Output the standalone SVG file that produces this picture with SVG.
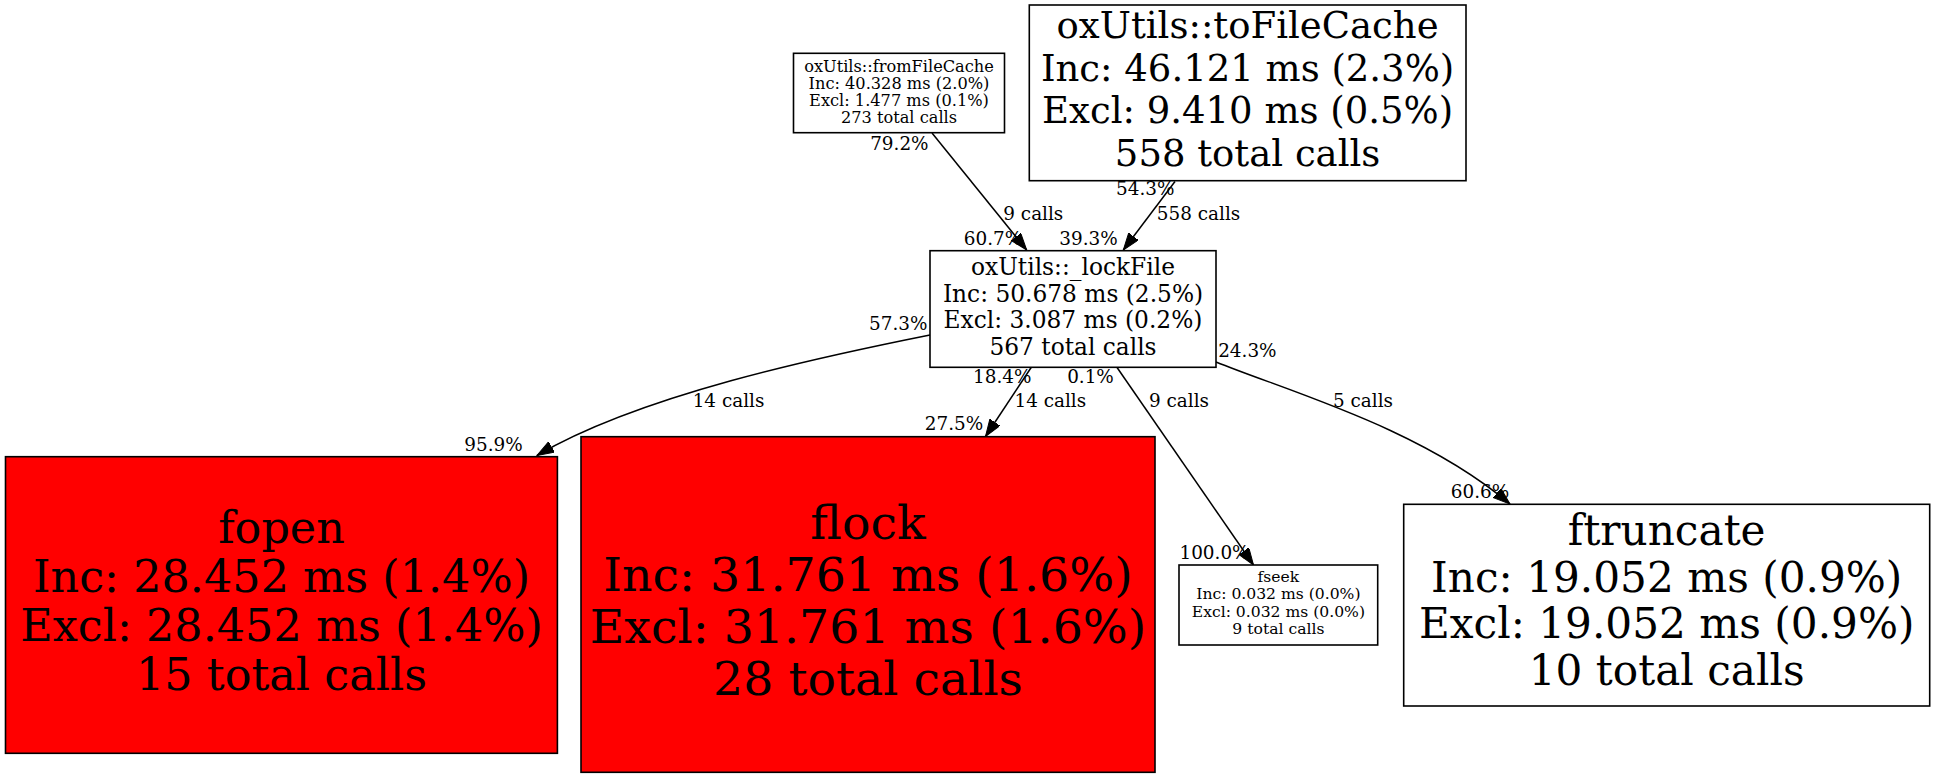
<svg xmlns="http://www.w3.org/2000/svg" width="1935" height="779" viewBox="0 0 1935 779">
<style>
  .node rect { stroke: #000; stroke-width: 1.6; }
  .white { fill: #fff; }
  .red { fill: #ff0000; }
  text { font-family: "DejaVu Serif", serif; fill: #000; text-anchor: middle; }
  .edge path { fill: none; stroke: #000; stroke-width: 1.5; }
  .lbl { font-size: 18.4px; }
</style>
<defs>
  <marker id="arr" markerUnits="userSpaceOnUse" markerWidth="18" markerHeight="13" refX="17" refY="6" orient="auto">
    <path d="M0,0 L17,6 L0,12 z" fill="#000" stroke="#000" stroke-width="1"/>
  </marker>
</defs>
<rect width="1935" height="779" fill="#fff"/>

<g id="connectors" class="edge">
  <path d="M932,133 L1026.7,250" marker-end="url(#arr)"/>
  <path d="M1175,181.5 L1123.3,250" marker-end="url(#arr)"/>
  <path d="M930,335 C820,357 640,395 537,455.5" marker-end="url(#arr)"/>
  <path d="M1031.5,367 L985.5,436.5" marker-end="url(#arr)"/>
  <path d="M1116.7,367 L1253.5,565" marker-end="url(#arr)"/>
  <path d="M1216,362 C1290,392 1420,428 1510,504" marker-end="url(#arr)"/>
  <text class="lbl" x="899.4" y="150">79.2%</text>
  <text class="lbl" x="1033.3" y="220">9 calls</text>
  <text class="lbl" x="993" y="245">60.7%</text>
  <text class="lbl" x="1145.3" y="195">54.3%</text>
  <text class="lbl" x="1198.5" y="220">558 calls</text>
  <text class="lbl" x="1088.5" y="245">39.3%</text>
  <text class="lbl" x="898.3" y="330">57.3%</text>
  <text class="lbl" x="728.5" y="407">14 calls</text>
  <text class="lbl" x="493.5" y="450.7">95.9%</text>
  <text class="lbl" x="1002.3" y="383.3">18.4%</text>
  <text class="lbl" x="1050.3" y="406.7">14 calls</text>
  <text class="lbl" x="954" y="430">27.5%</text>
  <text class="lbl" x="1090.5" y="383.3">0.1%</text>
  <text class="lbl" x="1179" y="406.7">9 calls</text>
  <text class="lbl" x="1214.5" y="559.3">100.0%</text>
  <text class="lbl" x="1247.4" y="356.7">24.3%</text>
  <text class="lbl" x="1363" y="407.3">5 calls</text>
  <text class="lbl" x="1480" y="498.3">60.6%</text>
</g>

<g id="fromFileCache" class="node">
  <rect class="white" x="793.5" y="53.3" width="211" height="79.4"/>
  <g style="font-size:16.2px">
    <text x="899" y="71.5">oxUtils::fromFileCache</text>
    <text x="899" y="88.5">Inc: 40.328 ms (2.0%)</text>
    <text x="899" y="105.5">Excl: 1.477 ms (0.1%)</text>
    <text x="899" y="122.5">273 total calls</text>
  </g>
</g>

<g id="toFileCache" class="node">
  <rect class="white" x="1029.3" y="5" width="436.7" height="175.7"/>
  <g style="font-size:37px">
    <text x="1247.6" y="38">oxUtils::toFileCache</text>
    <text x="1247.6" y="80.5">Inc: 46.121 ms (2.3%)</text>
    <text x="1247.6" y="123">Excl: 9.410 ms (0.5%)</text>
    <text x="1247.6" y="165.5">558 total calls</text>
  </g>
</g>

<g id="lockFile" class="node">
  <rect class="white" x="930" y="250.7" width="286" height="116.6"/>
  <g style="font-size:23.3px">
    <text x="1073" y="275">oxUtils::_lockFile</text>
    <text x="1073" y="301.7">Inc: 50.678 ms (2.5%)</text>
    <text x="1073" y="328.4">Excl: 3.087 ms (0.2%)</text>
    <text x="1073" y="355.1">567 total calls</text>
  </g>
</g>

<g id="fopen" class="node">
  <rect class="red" x="5.5" y="456.7" width="551.9" height="296.6"/>
  <g style="font-size:44.5px">
    <text x="281.5" y="543">fopen</text>
    <text x="281.5" y="592">Inc: 28.452 ms (1.4%)</text>
    <text x="281.5" y="641">Excl: 28.452 ms (1.4%)</text>
    <text x="281.5" y="690">15 total calls</text>
  </g>
</g>

<g id="flock" class="node">
  <rect class="red" x="581" y="436.7" width="574" height="335.6"/>
  <g style="font-size:47.4px">
    <text x="868" y="538.5">flock</text>
    <text x="868" y="590.5">Inc: 31.761 ms (1.6%)</text>
    <text x="868" y="642.5">Excl: 31.761 ms (1.6%)</text>
    <text x="868" y="694.5">28 total calls</text>
  </g>
</g>

<g id="fseek" class="node">
  <rect class="white" x="1179" y="565" width="198.7" height="80"/>
  <g style="font-size:15.6px">
    <text x="1278.4" y="582">fseek</text>
    <text x="1278.4" y="599.4">Inc: 0.032 ms (0.0%)</text>
    <text x="1278.4" y="616.8">Excl: 0.032 ms (0.0%)</text>
    <text x="1278.4" y="634.2">9 total calls</text>
  </g>
</g>

<g id="ftruncate" class="node">
  <rect class="white" x="1403.7" y="504.3" width="526" height="201.7"/>
  <g style="font-size:42.2px">
    <text x="1666.7" y="545">ftruncate</text>
    <text x="1666.7" y="591.7">Inc: 19.052 ms (0.9%)</text>
    <text x="1666.7" y="638.4">Excl: 19.052 ms (0.9%)</text>
    <text x="1666.7" y="685.1">10 total calls</text>
  </g>
</g>
</svg>
